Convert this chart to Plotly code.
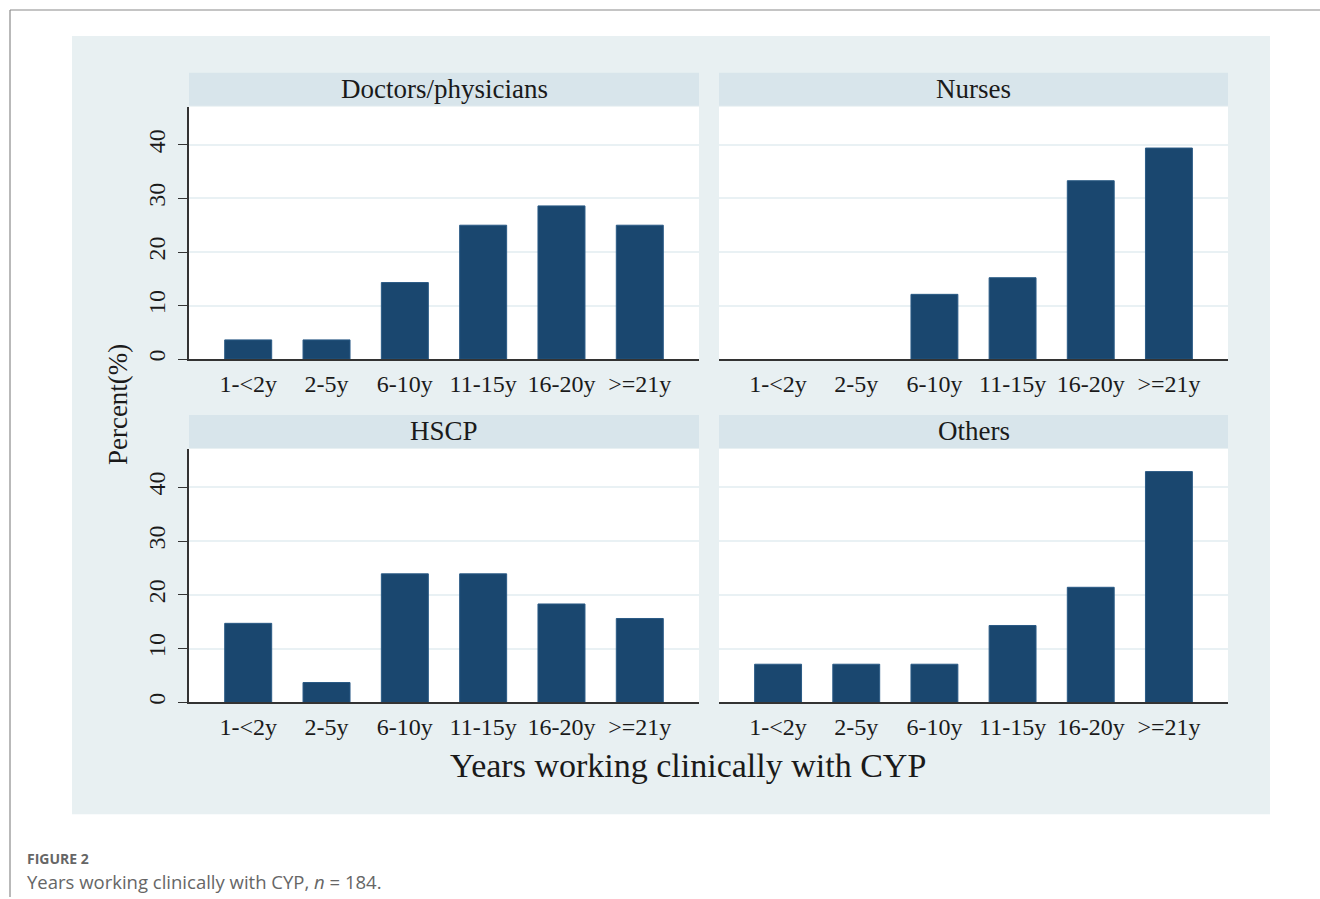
import plotly.graph_objects as go

# Years-of-experience bands and percentages per professional group
categories = ["1-<2y", "2-5y", "6-10y", "11-15y", "16-20y", ">=21y"]
doctors = [3.6, 3.6, 14.3, 25.0, 28.6, 25.0]
nurses = [0.0, 0.0, 12.1, 15.2, 33.3, 39.4]
hscp = [14.7, 3.7, 23.9, 23.9, 18.3, 15.6]
others = [7.1, 7.1, 7.1, 14.3, 21.4, 42.9]
panel_titles = ["Doctors/physicians", "Nurses", "HSCP", "Others"]
y_ticks = [0, 10, 20, 30, 40]

W, H = 1320, 899
BAR = "#1a476f"
BG = "#e8f0f2"
STRIP = "#d8e5eb"
GRID = "#e9f1f4"
AXIS = "#333333"
SERIF = "Liberation Serif"


def fx(px):
    return px / W


def fy(py):
    return 1 - py / H


# pixel boxes of the four plot regions: (left, right, top, bottom)
boxes = [
    (189, 699, 107, 360),
    (719, 1228, 107, 360),
    (189, 699, 450, 704),
    (719, 1228, 450, 704),
]
series = [doctors, nurses, hscp, others]

fig = go.Figure()
layout = dict(
    width=W, height=H,
    margin=dict(l=0, r=0, t=0, b=0),
    paper_bgcolor="white",
    plot_bgcolor="rgba(0,0,0,0)",
    showlegend=False,
    bargap=0.4,
)

shapes = [
    # outer figure frame (left and top edges)
    dict(type="line", xref="paper", yref="paper", x0=fx(10), x1=fx(10), y0=fy(10), y1=0,
         line=dict(color="#8a8a8a", width=1.2)),
    dict(type="line", xref="paper", yref="paper", x0=fx(10), x1=1, y0=fy(10), y1=fy(10),
         line=dict(color="#8a8a8a", width=1.2)),
    # graph region background
    dict(type="rect", xref="paper", yref="paper", x0=fx(72), x1=fx(1270), y0=fy(36), y1=fy(816),
         fillcolor=BG, line=dict(width=0), layer="below"),
]
annotations = []

for i, (box, vals, title) in enumerate(zip(boxes, series, panel_titles)):
    l, r, t, b = box
    n = "" if i == 0 else str(i + 1)
    xa, ya = "xaxis" + n, "yaxis" + n
    fig.add_trace(go.Bar(
        x=categories, y=vals, xaxis="x" + n, yaxis="y" + n,
        marker=dict(color=BAR, line=dict(color="#2a5a85",
                                         width=[1 if v > 0 else 0 for v in vals])),
        width=0.6,
    ))
    left_col = i in (0, 2)
    layout[xa] = dict(
        domain=[fx(l), fx(r)], anchor="y" + n, type="category",
        range=[-0.756, 5.756], showgrid=False, zeroline=False,
        showline=True, linecolor=AXIS, linewidth=1.5,
        ticks="", tickfont=dict(family=SERIF, size=24, color="#1a1a1a"),
        ticklabelstandoff=2, fixedrange=True,
    )
    layout[ya] = dict(
        domain=[fy(b), fy(t)], anchor="x" + n,
        range=[0, 47.1], tickvals=y_ticks,
        showgrid=True, gridcolor=GRID, gridwidth=2, zeroline=False,
        showline=left_col, linecolor=AXIS, linewidth=1.5,
        ticks="outside" if left_col else "", ticklen=9, tickcolor=AXIS, tickwidth=1.3,
        showticklabels=left_col, tickangle=-90,
        tickfont=dict(family=SERIF, size=24, color="#1a1a1a"),
        ticklabelstandoff=4, fixedrange=True,
    )
    # white panel region and strip header
    shapes.append(dict(type="rect", xref="paper", yref="paper", x0=fx(l), x1=fx(r),
                       y0=fy(b), y1=fy(t), fillcolor="white", line=dict(width=0), layer="below"))
    shapes.append(dict(type="rect", xref="paper", yref="paper", x0=fx(l), x1=fx(r),
                       y0=fy(t - 1), y1=fy(t - 34), fillcolor=STRIP, line=dict(width=0), layer="below"))
    annotations.append(dict(
        text=title, xref="paper", yref="paper", x=fx((l + r) / 2), y=fy(t - 18),
        xanchor="center", yanchor="middle", showarrow=False,
        font=dict(family=SERIF, size=27, color="#1a1a1a"),
    ))

annotations += [
    dict(text="Percent(%)", xref="paper", yref="paper", x=fx(118), y=fy(406),
         xanchor="center", yanchor="middle", textangle=-90, showarrow=False,
         font=dict(family=SERIF, size=27, color="#1a1a1a")),
    dict(text="Years working clinically with CYP", xref="paper", yref="paper",
         x=fx(688), y=fy(767), xanchor="center", yanchor="middle", showarrow=False,
         font=dict(family=SERIF, size=34, color="#1a1a1a")),
    dict(text="FIGURE 2", xref="paper", yref="paper", x=fx(25), y=fy(860),
         xanchor="left", yanchor="middle", showarrow=False,
         font=dict(family="Open Sans", size=14, color="#666666", weight="bold")),
    dict(text="Years working clinically with CYP, <i>n</i> = 184.", xref="paper", yref="paper",
         x=fx(25), y=fy(883), xanchor="left", yanchor="middle", showarrow=False,
         font=dict(family="Open Sans", size=18.5, color="#666666")),
]

layout["shapes"] = shapes
layout["annotations"] = annotations
fig.update_layout(**layout)
fig.write_html("out.html")
